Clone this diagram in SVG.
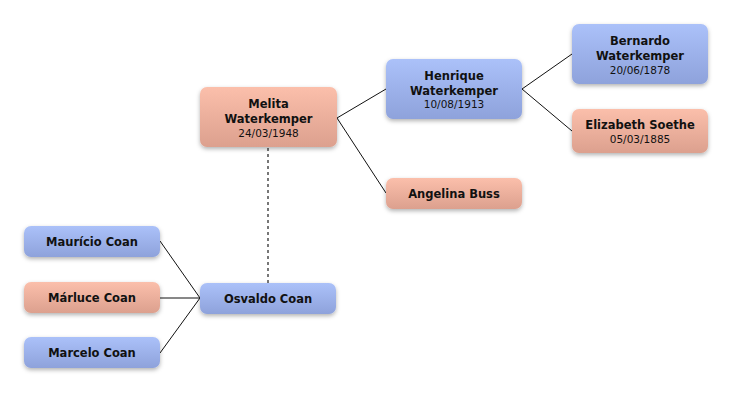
<svg xmlns="http://www.w3.org/2000/svg" width="732" height="394" viewBox="0 0 732 394">
<style>
.name{font-family:"DejaVu Sans","Liberation Sans",sans-serif;font-size:11.5px;font-weight:bold;fill:#111;text-anchor:middle}
.date{font-family:"DejaVu Sans","Liberation Sans",sans-serif;font-size:10.5px;fill:#111;text-anchor:middle}
.m rect{fill:url(#gm);filter:url(#sh)}
.f rect{fill:url(#gf);filter:url(#sh)}
.ln{stroke:#111;stroke-width:1;fill:none}
.dash{stroke:#777;stroke-width:2;stroke-dasharray:3 3;fill:none}
</style>
<defs>
<linearGradient id="gm" x1="0" y1="0" x2="0" y2="1"><stop offset="0" stop-color="#abc1f9"/><stop offset="1" stop-color="#8ea2db"/></linearGradient>
<linearGradient id="gf" x1="0" y1="0" x2="0" y2="1"><stop offset="0" stop-color="#fbbfab"/><stop offset="1" stop-color="#dca08e"/></linearGradient>
<filter id="sh" x="-10%" y="-20%" width="120%" height="150%"><feDropShadow dx="0" dy="2" stdDeviation="2" flood-color="#000" flood-opacity="0.3"/></filter>
</defs>
<rect width="732" height="394" fill="#fff"/>
<g id="connectors">
<path class="ln" d="M337 118 L386 89 M337 118 L386 193"/>
<path class="ln" d="M522 89 L572 54 M522 89 L572 131"/>
<path class="ln" d="M200 298 L160 241 M200 298 L160 298 M200 298 L160 353"/>
<path class="dash" d="M268 148 L268 283"/>
</g>
<g id="melita" class="f"><rect x="200" y="87" width="137" height="60" rx="7"/><text class="name" x="268.5" y="108">Melita</text><text class="name" x="268.5" y="123">Waterkemper</text><text class="date" x="268.5" y="137">24/03/1948</text></g>
<g id="henrique" class="m"><rect x="386" y="59" width="136" height="60" rx="7"/><text class="name" x="454" y="80">Henrique</text><text class="name" x="454" y="95">Waterkemper</text><text class="date" x="454" y="108">10/08/1913</text></g>
<g id="bernardo" class="m"><rect x="572" y="24" width="136" height="60" rx="7"/><text class="name" x="640" y="45">Bernardo</text><text class="name" x="640" y="60">Waterkemper</text><text class="date" x="640" y="74">20/06/1878</text></g>
<g id="elizabeth" class="f"><rect x="572" y="109" width="136" height="44" rx="7"/><text class="name" x="640" y="129">Elizabeth Soethe</text><text class="date" x="640" y="143">05/03/1885</text></g>
<g id="angelina" class="f"><rect x="386" y="178" width="136" height="31" rx="7"/><text class="name" x="454" y="198">Angelina Buss</text></g>
<g id="mauricio" class="m"><rect x="24" y="226" width="136" height="31" rx="7"/><text class="name" x="92" y="246">Maurício Coan</text></g>
<g id="marluce" class="f"><rect x="24" y="282" width="136" height="31" rx="7"/><text class="name" x="92" y="302">Márluce Coan</text></g>
<g id="marcelo" class="m"><rect x="24" y="337" width="136" height="31" rx="7"/><text class="name" x="92" y="357">Marcelo Coan</text></g>
<g id="osvaldo" class="m"><rect x="200" y="283" width="136" height="31" rx="7"/><text class="name" x="268" y="303">Osvaldo Coan</text></g>
</svg>
